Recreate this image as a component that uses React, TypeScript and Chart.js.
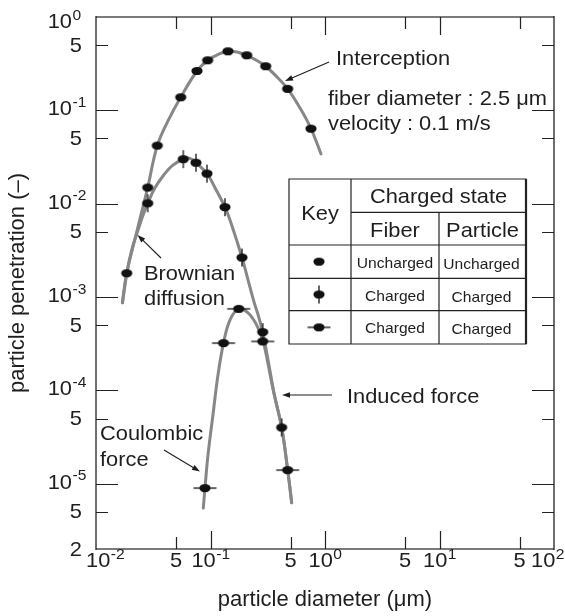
import React, { useEffect, useRef } from "react";
import { Chart, registerables } from "chart.js";

Chart.register(...registerables);

// ---------- axes ----------
const xTickValues = [0.01, 0.05, 0.1, 0.5, 1, 5, 10, 50, 100];
const xTickLabels = ["10^-2", "5", "10^-1", "5", "10^0", "5", "10^1", "5", "10^2"];
const yTickValues = [2e-6, 5e-6, 1e-5, 5e-5, 1e-4, 5e-4, 1e-3, 5e-3, 1e-2, 5e-2, 1e-1, 5e-1, 1];
const yTickLabels = ["2", "5", "10^-5", "5", "10^-4", "5", "10^-3", "5", "10^-2", "5", "10^-1", "5", "10^0"];
const xTitle = "particle diameter (μm)";
const yTitle = "particle penetration (–)";

// ---------- markers (measured points) ----------
// uncharged fiber / uncharged particle  (Interception)
const uncharged_X = [0.01854, 0.02828, 0.03429, 0.05491, 0.0762, 0.0945, 0.1421, 0.2071, 0.3034, 0.4722, 0.7546];
const uncharged_Y = [1.8e-3, 1.49e-2, 4.19e-2, 0.138, 0.264, 0.344, 0.429, 0.389, 0.297, 0.17, 0.0637];
// charged (vertical bar marker)
const chargedV_X = [0.02828, 0.05785, 0.07468, 0.0932, 0.1338, 0.1884, 0.2857, 0.4184];
const chargedV_Y = [1.01e-2, 3.0e-2, 2.75e-2, 2.1e-2, 9.18e-3, 2.65e-3, 4.21e-4, 4.01e-5];
// charged (horizontal bar marker)
const chargedH_X = [0.0895, 0.1299, 0.1763, 0.2857, 0.4722];
const chargedH_Y = [8.99e-6, 3.21e-4, 7.48e-4, 3.35e-4, 1.4e-5];

// ---------- theoretical curves ----------
const interceptionCurveX = [0.01697, 0.01854, 0.02281, 0.02828, 0.03429, 0.04255, 0.05491, 0.0762, 0.0945, 0.1163, 0.1421, 0.1703, 0.2071, 0.2496, 0.3034, 0.3809, 0.4722, 0.6048, 0.7546, 0.9228];
const interceptionCurveY = [8.67e-4, 1.8e-3, 5.11e-3, 1.49e-2, 4.19e-2, 7.7e-2, 0.138, 0.264, 0.344, 0.397, 0.429, 0.422, 0.389, 0.346, 0.297, 0.228, 0.17, 0.106, 0.0637, 0.0341];
const brownianCurveX = [0.01704, 0.01866, 0.02063, 0.02303, 0.02522, 0.02828, 0.03276, 0.03847, 0.04611, 0.05785, 0.06622, 0.07468, 0.0932, 0.1095, 0.1338, 0.1572, 0.1884, 0.2126, 0.2398, 0.2652, 0.2857, 0.3178, 0.3585, 0.4184, 0.4722, 0.5119];
const brownianCurveY = [8.67e-4, 1.86e-3, 3.28e-3, 4.99e-3, 7.05e-3, 1.01e-2, 1.48e-2, 1.98e-2, 2.54e-2, 3.0e-2, 3.06e-2, 2.75e-2, 2.1e-2, 1.48e-2, 9.18e-3, 5.37e-3, 2.65e-3, 1.53e-3, 8.88e-4, 5.99e-4, 4.21e-4, 2.13e-4, 9.43e-5, 4.01e-5, 1.4e-5, 6.26e-6];
const coulombCurveX = [0.08651, 0.0895, 0.0951, 0.1051, 0.1163, 0.1299, 0.1481, 0.1763, 0.2126, 0.2496, 0.2857, 0.3178, 0.3585, 0.4184, 0.4722, 0.5119];
const coulombCurveY = [5.49e-6, 8.99e-6, 2.04e-5, 5.48e-5, 1.47e-4, 3.21e-4, 5.7e-4, 7.48e-4, 6.77e-4, 5.17e-4, 3.48e-4, 1.93e-4, 9.2e-5, 4.01e-5, 1.4e-5, 6.26e-6];

// ---------- key table ----------
const keyHeader = ["Key", "Charged state", "Fiber", "Particle"];
const keyRows: { marker: "plain" | "vbar" | "hbar"; fiber: string; particle: string }[] = [
  { marker: "plain", fiber: "Uncharged", particle: "Uncharged" },
  { marker: "vbar", fiber: "Charged", particle: "Charged" },
  { marker: "hbar", fiber: "Charged", particle: "Charged" },
];

const FONT = '"Liberation Sans", Arial, Helvetica, sans-serif';
const INK = "#1e1e1e";
const CURVE = "#878787";
const SX = 1.04;

type Kind = "plain" | "vbar" | "hbar";

function makeMarker(kind: Kind): HTMLCanvasElement {
  const c = document.createElement("canvas");
  c.width = 26;
  c.height = 22;
  const g = c.getContext("2d")!;
  g.fillStyle = "#111";
  g.strokeStyle = "#111";
  g.lineWidth = 1.3;
  const cx = 13, cy = 11;
  if (kind === "vbar") {
    g.beginPath(); g.moveTo(cx, cy - 9); g.lineTo(cx, cy + 9); g.stroke();
  }
  if (kind === "hbar") {
    g.beginPath(); g.moveTo(cx - 11.5, cy); g.lineTo(cx + 11.5, cy); g.stroke();
  }
  g.beginPath();
  g.ellipse(cx, cy, 5.6, 4.1, 0, 0, Math.PI * 2);
  g.fill();
  return c;
}

function pts(xs: number[], ys: number[]) {
  return xs.map((x, i) => ({ x, y: ys[i] }));
}

function drawText(ctx: CanvasRenderingContext2D, s: string, x: number, y: number, size: number, align: CanvasTextAlign = "left", sx = SX) {
  ctx.save();
  ctx.font = `${size}px ${FONT}`;
  ctx.textAlign = align;
  ctx.textBaseline = "alphabetic";
  ctx.fillStyle = INK;
  ctx.translate(x, y);
  ctx.scale(sx, 1);
  ctx.fillText(s, 0, 0);
  ctx.restore();
}

function textWidth(ctx: CanvasRenderingContext2D, s: string, size: number, sx = SX) {
  ctx.save();
  ctx.font = `${size}px ${FONT}`;
  const w = ctx.measureText(s).width * sx;
  ctx.restore();
  return w;
}

function drawArrow(ctx: CanvasRenderingContext2D, x1: number, y1: number, x2: number, y2: number) {
  const ang = Math.atan2(y2 - y1, x2 - x1);
  const L = 8, W = 2.8;
  ctx.save();
  ctx.strokeStyle = INK;
  ctx.fillStyle = INK;
  ctx.lineWidth = 1.1;
  ctx.beginPath();
  ctx.moveTo(x1, y1);
  ctx.lineTo(x2 - Math.cos(ang) * (L - 1), y2 - Math.sin(ang) * (L - 1));
  ctx.stroke();
  ctx.beginPath();
  ctx.moveTo(x2, y2);
  ctx.lineTo(x2 - Math.cos(ang) * L - Math.sin(ang) * W, y2 - Math.sin(ang) * L + Math.cos(ang) * W);
  ctx.lineTo(x2 - Math.cos(ang) * L + Math.sin(ang) * W, y2 - Math.sin(ang) * L - Math.cos(ang) * W);
  ctx.closePath();
  ctx.fill();
  ctx.restore();
}

export default function App() {
  const ref = useRef<HTMLCanvasElement>(null);

  useEffect(() => {
    const canvas = ref.current;
    if (!canvas) return;
    const markers: Record<Kind, HTMLCanvasElement> = {
      plain: makeMarker("plain"),
      vbar: makeMarker("vbar"),
      hbar: makeMarker("hbar"),
    };

    const overlay = {
      id: "overlay",
      afterDatasetsDraw(chart: any) {
        const { ctx, chartArea: a, scales } = chart;
        const xs = scales.x, ys = scales.y;
        ctx.save();
        // frame
        ctx.lineCap = "butt";
        ctx.strokeStyle = "#7a7a7a";
        ctx.lineWidth = 2;
        ctx.beginPath();
        ctx.moveTo(a.left, a.top); ctx.lineTo(a.right, a.top);
        ctx.moveTo(a.left, a.bottom); ctx.lineTo(a.right, a.bottom);
        ctx.stroke();
        ctx.strokeStyle = "#222";
        ctx.lineWidth = 1.3;
        ctx.beginPath();
        ctx.moveTo(a.left, a.top - 1); ctx.lineTo(a.left, a.bottom + 1);
        ctx.moveTo(a.right, a.top - 1); ctx.lineTo(a.right, a.bottom + 1);
        ctx.stroke();
        // inward ticks
        ctx.strokeStyle = "#222";
        ctx.lineWidth = 1.2;
        ctx.beginPath();
        yTickValues.forEach((v, i) => {
          if (i === 0 || i === yTickValues.length - 1) return;
          const py = Math.round(ys.getPixelForValue(v)) + 0.5;
          const len = yTickLabels[i].includes("^") ? 22 : 12;
          ctx.moveTo(a.left, py); ctx.lineTo(a.left + len, py);
          ctx.moveTo(a.right, py); ctx.lineTo(a.right - len, py);
        });
        xTickValues.forEach((v, i) => {
          if (i === 0 || i === xTickValues.length - 1) return;
          const px = Math.round(xs.getPixelForValue(v)) + 0.5;
          const len = xTickLabels[i].includes("^") ? 18 : 12;
          ctx.moveTo(px, a.bottom); ctx.lineTo(px, a.bottom - len);
          ctx.moveTo(px, a.top); ctx.lineTo(px, a.top + len);
        });
        ctx.stroke();
        ctx.restore();
      },
      afterDraw(chart: any) {
        const { ctx, scales } = chart;
        const xs = scales.x, ys = scales.y;
        // y tick labels
        yTickValues.forEach((v, i) => {
          const lab = yTickLabels[i];
          const py = ys.getPixelForValue(v);
          if (lab.includes("^")) {
            const [base, ex] = lab.split("^");
            const by = Math.max(py + 5, 28);
            drawText(ctx, base, 72, by, 21, "right");
            drawText(ctx, ex, 72.5, by - 8.5, 15, "left");
          } else {
            drawText(ctx, lab, 82, py + 6.5, 21, "right");
          }
        });
        // x tick labels
        xTickValues.forEach((v, i) => {
          const lab = xTickLabels[i];
          const px = xs.getPixelForValue(v);
          if (lab.includes("^")) {
            const [base, ex] = lab.split("^");
            const wb = textWidth(ctx, base, 21);
            const we = textWidth(ctx, ex, 15);
            let left = px - (wb + we) / 2;
            if (left < 86) left = 86;
            if (left + wb + we > 564) left = 564 - wb - we;
            drawText(ctx, base, left, 567, 21, "left");
            drawText(ctx, ex, left + wb + 0.5, 558.5, 15, "left");
          } else {
            drawText(ctx, lab, px, 567, 21, "center");
          }
        });

        // annotations
        drawText(ctx, "Interception", 336, 65, 21);
        drawArrow(ctx, 329, 62, 285, 81);
        drawText(ctx, "fiber diameter : 2.5 μm", 328, 105, 21);
        drawText(ctx, "velocity : 0.1 m/s", 328, 130, 21);
        drawText(ctx, "Brownian", 144, 280, 21);
        drawText(ctx, "diffusion", 144, 305, 21);
        drawArrow(ctx, 161, 258, 137.5, 235);
        drawText(ctx, "Coulombic", 100, 440, 21);
        drawText(ctx, "force", 100, 466, 21);
        drawArrow(ctx, 164, 450, 200, 471.5);
        drawText(ctx, "Induced force", 347, 403, 21);
        drawArrow(ctx, 332, 395, 282, 395);

        // key table
        const L = 289, R = 526, T = 179, B = 344;
        const c1 = 351, c2 = 439;
        const h1 = 212.3, h2 = 245, r1 = 278.3, r2 = 310.7;
        ctx.save();
        ctx.fillStyle = "#fff";
        ctx.fillRect(L, T, R - L, B - T);
        ctx.strokeStyle = "#222";
        ctx.lineWidth = 1.2;
        ctx.beginPath();
        ctx.rect(L, T, R - L, B - T);
        ctx.moveTo(c1, T); ctx.lineTo(c1, B);
        ctx.moveTo(c2, h1); ctx.lineTo(c2, B);
        ctx.moveTo(c1, h1); ctx.lineTo(R, h1);
        ctx.moveTo(L, h2); ctx.lineTo(R, h2);
        ctx.moveTo(L, r1); ctx.lineTo(R, r1);
        ctx.moveTo(L, r2); ctx.lineTo(R, r2);
        ctx.stroke();
        ctx.lineWidth = 2.2;
        ctx.beginPath();
        ctx.moveTo(R, T); ctx.lineTo(R, B);
        ctx.stroke();
        ctx.restore();
        drawText(ctx, keyHeader[0], (L + c1) / 2, 220, 21, "center");
        drawText(ctx, keyHeader[1], (c1 + R) / 2, 203, 21, "center");
        drawText(ctx, keyHeader[2], (c1 + c2) / 2, 237, 21, "center");
        drawText(ctx, keyHeader[3], (c2 + R) / 2, 237, 21, "center");
        const rowTops = [h2, r1, r2];
        const rowBots = [r1, r2, B];
        keyRows.forEach((row, i) => {
          const cy = (rowTops[i] + rowBots[i]) / 2;
          const m = markers[row.marker];
          ctx.drawImage(m, 319 - m.width / 2, cy - m.height / 2);
          drawText(ctx, row.fiber, (c1 + c2) / 2, cy + 6, 15, "center");
          drawText(ctx, row.particle, (c2 + R) / 2 - 1, cy + 7, 15, "center");
        });
      },
    };

    const curve = (label: string, xs: number[], ys: number[]) => ({
      label,
      data: pts(xs, ys),
      showLine: true,
      pointRadius: 0,
      borderColor: CURVE,
      backgroundColor: CURVE,
      borderWidth: 3,
      tension: 0.4,
      borderCapStyle: "round" as const,
    });
    const marks = (label: string, xs: number[], ys: number[], kind: Kind) => ({
      label,
      data: pts(xs, ys),
      showLine: false,
      pointRadius: 5,
      pointStyle: markers[kind],
      backgroundColor: "#111",
      borderColor: "#111",
    });

    const chart = new Chart(canvas, {
      type: "scatter",
      data: {
        datasets: [
          marks("Uncharged fiber / uncharged particle", uncharged_X, uncharged_Y, "plain"),
          marks("Charged fiber / charged particle (vertical)", chargedV_X, chargedV_Y, "vbar"),
          marks("Charged fiber / charged particle (horizontal)", chargedH_X, chargedH_Y, "hbar"),
          curve("Interception", interceptionCurveX, interceptionCurveY),
          curve("Brownian diffusion / Induced force", brownianCurveX, brownianCurveY),
          curve("Coulombic force", coulombCurveX, coulombCurveY),
        ] as any,
      },
      options: {
        animation: false,
        responsive: false,
        events: [],
        layout: { padding: { left: 0, right: 11, top: 17, bottom: 0 } },
        plugins: {
          legend: { display: false },
          tooltip: { enabled: false },
          title: { display: false },
        },
        scales: {
          x: {
            type: "logarithmic",
            position: "bottom",
            min: 0.01,
            max: 100,
            afterBuildTicks: (s: any) => {
              s.ticks = xTickValues.map((v) => ({ value: v }));
            },
            afterFit: (s: any) => {
              s.height = 67;
            },
            ticks: { display: false, callback: (_v: any, i: number) => xTickLabels[i] ?? "" },
            grid: { display: false },
            border: { display: false },
            title: {
              display: true,
              text: xTitle,
              color: INK,
              font: { family: FONT, size: 22 },
              padding: { top: 0, bottom: 2.5 },
            },
          },
          y: {
            type: "logarithmic",
            position: "left",
            min: 2e-6,
            max: 1,
            afterBuildTicks: (s: any) => {
              s.ticks = yTickValues.map((v) => ({ value: v }));
            },
            afterFit: (s: any) => {
              s.width = 96;
            },
            ticks: { display: false, callback: (_v: any, i: number) => yTickLabels[i] ?? "" },
            grid: { display: false },
            border: { display: false },
            title: {
              display: true,
              text: yTitle,
              color: INK,
              font: { family: FONT, size: 22 },
              padding: { top: 5, bottom: 0 },
            },
          },
        },
      } as any,
      plugins: [overlay],
    });
    return () => chart.destroy();
  }, []);

  return (
    <div style={{ position: "fixed", left: 0, top: 0, width: 565, height: 616, background: "#fff" }}>
      <canvas ref={ref} width={565} height={616} style={{ display: "block" }} />
    </div>
  );
}
